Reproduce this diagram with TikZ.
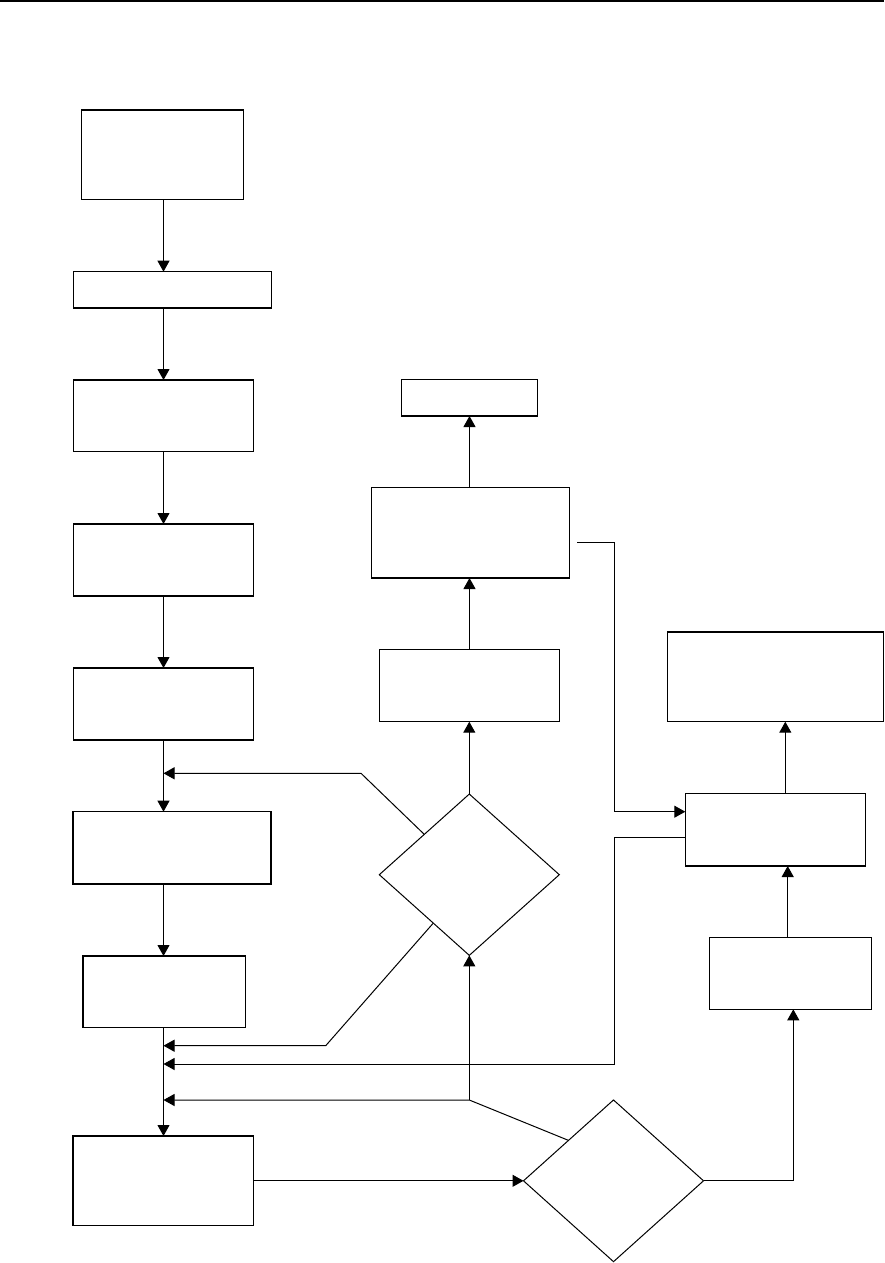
\documentclass[tikz,border=0pt]{standalone}
\usetikzlibrary{arrows.meta,shapes.geometric,calc}
\begin{document}
\begin{tikzpicture}[x=1pt,y=-1pt,
  box/.style={draw,line width=1.4pt,rectangle,inner sep=0pt,outer sep=0pt},
  dia/.style={draw,line width=1pt,diamond,inner sep=0pt,outer sep=0pt,minimum width=180pt,minimum height=161.3pt},
  conn/.style={line width=1pt},
  arr/.style={conn,-{Triangle[length=11pt,width=12pt]}}]
\useasboundingbox (0,0) rectangle (884,1263);
\draw[line width=2pt] (0,1) -- (884,1);
% boxes
\node[box,minimum width=162pt,minimum height=89.7pt] (A) at (162.3,154.85) {};
\node[box,minimum width=198pt,minimum height=36.3pt] (B) at (172.3,289.85) {};
\node[box,minimum width=180pt,minimum height=71.7pt] (C) at (163.3,415.85) {};
\node[box,minimum width=180pt,minimum height=72pt] (D) at (163.3,560) {};
\node[box,minimum width=180pt,minimum height=72pt] (E) at (163.3,704) {};
\node[box,minimum width=198pt,minimum height=72.3pt] (F) at (172,847.85) {};
\node[box,minimum width=162.7pt,minimum height=71.7pt] (G) at (164.35,991.85) {};
\node[box,minimum width=180.3pt,minimum height=89.7pt] (H) at (163.15,1180.85) {};
\node[box,minimum width=136pt,minimum height=36.7pt] (K) at (469.3,397.65) {};
\node[box,minimum width=197.6pt,minimum height=90.7pt] (J) at (470.5,532.65) {};
\node[box,minimum width=180pt,minimum height=72.4pt] (I) at (469.3,685.5) {};
\node[box,minimum width=216pt,minimum height=89.7pt] (O) at (775.3,676.85) {};
\node[box,minimum width=180pt,minimum height=72.7pt] (M) at (775.3,829.65) {};
\node[box,minimum width=162pt,minimum height=71.6pt] (N) at (790.3,973.5) {};
\node[dia] (D1) at (469.3,874.7) {};
\node[dia,minimum height=161.7pt] (D2) at (613.5,1180.8) {};
% column coordinates
\coordinate (c1) at (163.5,0);
\coordinate (cm) at (469.5,0);
\coordinate (cr) at (614,0);
\coordinate (jfree) at (577.3,542.3);
\coordinate (p1) at (361,773.3);
\coordinate (p2) at (325.7,1045.7);
\coordinate (p3) at (469.3,1100);
% main column
\draw[arr] (A.south -| c1) -- (B.north -| c1);
\draw[arr] (B.south -| c1) -- (C.north -| c1);
\draw[arr] (C.south -| c1) -- (D.north -| c1);
\draw[arr] (D.south -| c1) -- (E.north -| c1);
\draw[arr] (E.south -| c1) -- (F.north -| c1);
\draw[arr] (F.south -| c1) -- (G.north -| c1);
\draw[arr] (G.south -| c1) -- (H.north -| c1);
% feedback lines
\draw[arr] (D1.north west) -- (p1) -- (p1 -| c1);
\draw[arr] ($(D1.west)!0.6!(D1.south)$) -- (p2) -- (p2 -| c1);
\draw[arr] (M.west |- 0,837.7) -- (cr |- 0,837.7) -- (cr |- 0,1064) -- (c1 |- 0,1064);
\draw[arr] (D2.north west) -- (p3) -- (p3 -| c1);
\draw[arr] (p3) -- (D1.south);
\draw[arr] (H.east |- D2.west) -- (D2.west);
% middle column
\draw[arr] (D1.north) -- (I.south -| D1.north);
\draw[arr] (I.north -| cm) -- (J.south -| cm);
\draw[arr] (J.north -| cm) -- (K.south -| cm);
\draw[arr] (jfree) -- (jfree -| cr) -- (cr |- 0,811.7) -- (M.west |- 0,811.7);
% right column
\draw[arr] (D2.east) -- (D2.east -| 793.3,0) -- (N.south -| 793.3,0);
\draw[arr] (N.north -| 787.7,0) -- (M.south -| 787.7,0);
\draw[arr] (M.north -| 785.3,0) -- (O.south -| 785.3,0);
\end{tikzpicture}
\end{document}
